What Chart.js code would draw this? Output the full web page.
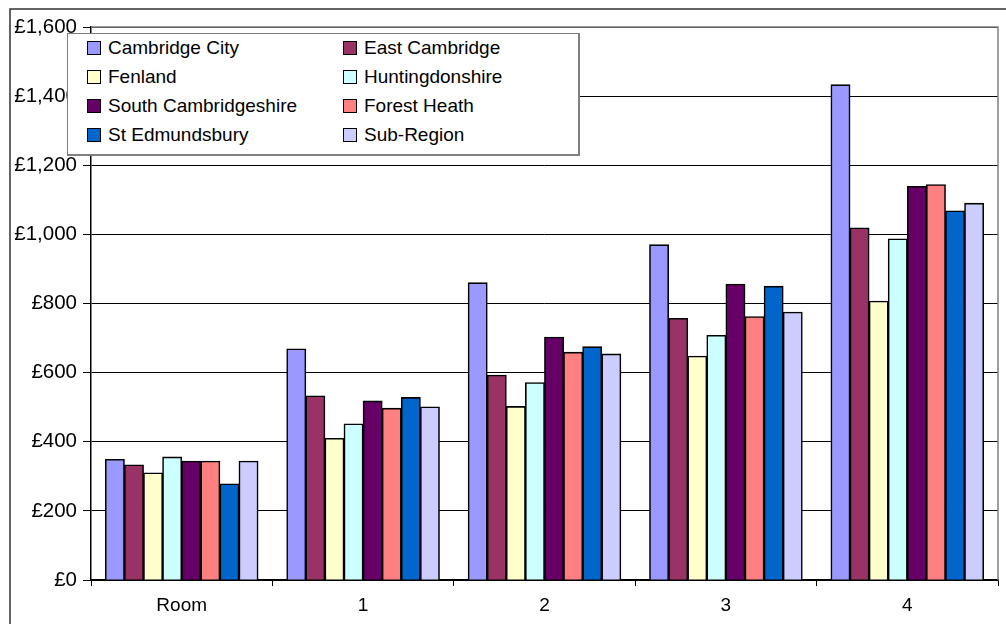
<!DOCTYPE html>
<html>
<head>
<meta charset="utf-8">
<script src="https://cdn.jsdelivr.net/npm/chart.js@4"></script>
<style>
  html, body { margin: 0; padding: 0; background: #fff; }
  #wrap { position: relative; width: 1006px; height: 624px; overflow: hidden; }
  #legend {
    position: absolute; left: 67px; top: 33px; width: 510px; height: 120px;
    border: 1px solid #808080; border-right-width: 2px; border-bottom-width: 2px;
    background: #fff; box-sizing: content-box;
    font-family: "Liberation Sans", Arial, sans-serif; font-size: 19px; color: #000;
  }
  .item { position: absolute; display: flex; align-items: center; height: 28px; white-space: nowrap; }
  .sw { width: 12px; height: 12px; border: 1px solid #000; margin-right: 7px; flex: none; }
</style>
</head>
<body>
<div id="wrap">
  <canvas id="c" width="1006" height="624"></canvas>
  <div id="legend"></div>
</div>
<script>
const categories = ["Room", "1", "2", "3", "4"];
const seriesNames = ["Cambridge City", "East Cambridge", "Fenland", "Huntingdonshire",
                     "South Cambridgeshire", "Forest Heath", "St Edmundsbury", "Sub-Region"];
const cambridgeCity       = [349, 669, 860, 970, 1433];
const eastCambridge       = [333, 533, 593, 757, 1019];
const fenland             = [310, 410, 502, 648, 807];
const huntingdonshire     = [356, 452, 571, 708, 987];
const southCambridgeshire = [344, 518, 703, 856, 1139];
const forestHeath         = [344, 497, 659, 762, 1144];
const stEdmundsbury       = [278, 528, 675, 850, 1068];
const subRegion           = [344, 501, 654, 775, 1090];
const yTicks = [0, 200, 400, 600, 800, 1000, 1200, 1400, 1600];

const seriesValues = [cambridgeCity, eastCambridge, fenland, huntingdonshire,
                      southCambridgeshire, forestHeath, stEdmundsbury, subRegion];
const colors = ["#9999FF", "#993366", "#FFFFCC", "#CCFFFF", "#660066", "#FF8080", "#0066CC", "#CCCCFF"];

const FONT = "'Liberation Sans', Arial, sans-serif";

const framePlugin = {
  id: 'frame',
  afterDraw(chart) {
    const ctx = chart.ctx, a = chart.chartArea;
    ctx.save();
    ctx.strokeStyle = '#808080';
    ctx.lineWidth = 1.5;
    ctx.beginPath();
    ctx.moveTo(a.left, a.top);
    ctx.lineTo(a.right, a.top);
    ctx.lineTo(a.right, a.bottom);
    ctx.stroke();
    ctx.strokeStyle = '#333';
    ctx.lineWidth = 1.5;
    ctx.beginPath();
    ctx.moveTo(10, 624);
    ctx.lineTo(10, 9);
    ctx.lineTo(1006, 9);
    ctx.stroke();
    ctx.restore();
  }
};

const chart = new Chart(document.getElementById('c'), {
  type: 'bar',
  data: {
    labels: categories,
    datasets: seriesNames.map((n, i) => ({
      label: n,
      data: seriesValues[i],
      backgroundColor: colors[i],
      borderColor: '#000',
      borderWidth: 1.6,
      borderSkipped: 'bottom',
      inflateAmount: 0.4,
      categoryPercentage: 0.842,
      barPercentage: 1.0
    }))
  },
  options: {
    responsive: false,
    animation: false,
    layout: { padding: { left: 0, top: 27, right: 8, bottom: 0 } },
    plugins: { legend: { display: false }, tooltip: { enabled: false } },
    scales: {
      x: {
        afterFit(s) { s.height = 44; },
        grid: { drawOnChartArea: false, drawTicks: true, tickLength: 6, color: '#000', offset: true },
        border: { color: '#000', width: 1.5 },
        ticks: { color: '#000', font: { family: FONT, size: 19 }, padding: 8, maxRotation: 0 }
      },
      y: {
        min: 0, max: 1600,
        afterFit(s) { s.width = 91; },
        afterBuildTicks(s) { s.ticks = yTicks.map(v => ({ value: v })); },
        grid: { color: '#000', lineWidth: 1, tickLength: 8 },
        border: { color: '#000', width: 1.5 },
        ticks: {
          color: '#000', font: { family: FONT, size: 20.5 }, padding: 6,
          callback: v => '£' + v.toLocaleString('en-GB')
        }
      }
    }
  },
  plugins: [framePlugin]
});

const lg = document.getElementById('legend');
chart.data.datasets.forEach((ds, i) => {
  const col = i % 2, row = Math.floor(i / 2);
  const it = document.createElement('div');
  it.className = 'item';
  it.style.left = (col === 0 ? 19 : 275) + 'px';
  it.style.top = (0 + row * 29) + 'px';
  const sw = document.createElement('span');
  sw.className = 'sw';
  sw.style.background = ds.backgroundColor;
  const tx = document.createElement('span');
  tx.textContent = ds.label;
  it.appendChild(sw); it.appendChild(tx);
  lg.appendChild(it);
});
</script>
</body>
</html>
